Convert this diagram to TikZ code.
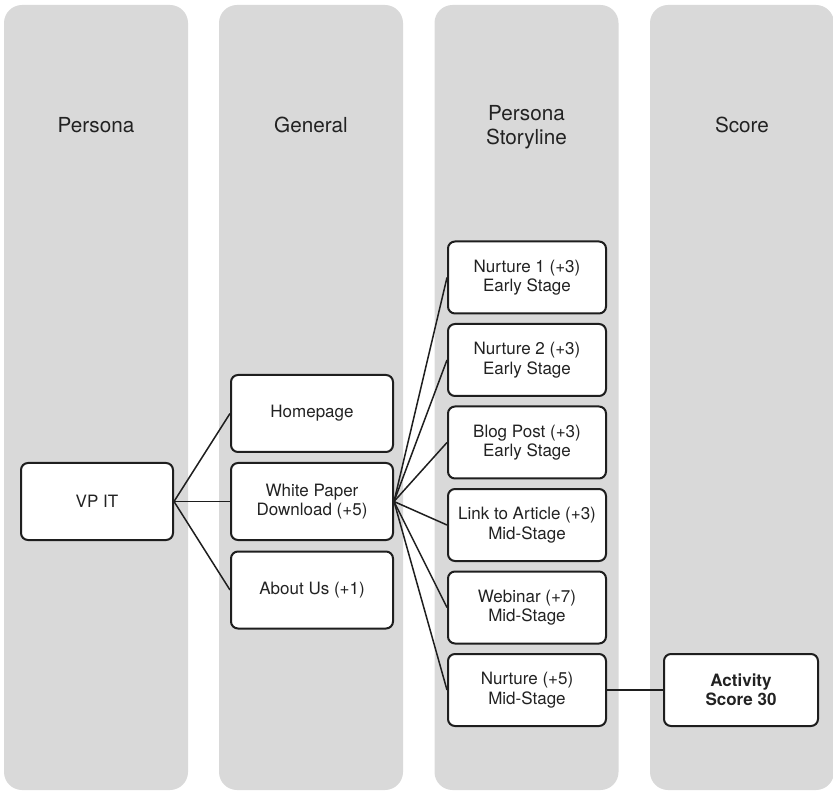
\documentclass[tikz,border=0pt]{standalone}
\usepackage{fontspec}
\setmainfont{TeX Gyre Heros}
\usepackage{tikz}
\usetikzlibrary{positioning}
\definecolor{lanegrey}{RGB}{217, 217, 217}
\definecolor{inkline}{RGB}{30, 30, 30}
\definecolor{inktext}{RGB}{34, 34, 34}
\tikzstyle{lane} = [rectangle, rounded corners=18pt, minimum width=184pt, minimum height=785pt, fill=lanegrey, draw=none]
\tikzstyle{header} = [text=inktext, align=center, font=\fontsize{20.7}{24}\selectfont]
\tikzstyle{touch} = [rectangle, rounded corners=7pt, minimum height=72pt, draw=inkline, line width=2pt, fill=white, text=inktext, align=center, font=\fontsize{17}{19.5}\selectfont]
\tikzstyle{link} = [draw=inkline, line width=1.5pt]

\begin{document}
\begin{tikzpicture}[x=1pt, y=-1pt]
    \useasboundingbox (0,0) rectangle (833,791);

    % Lanes
    \node[lane] (lane1) at (96, 397.5) {};
    \node[lane] (lane2) at (311, 397.5) {};
    \node[lane] (lane3) at (526.5, 397.5) {};
    \node[lane] (lane4) at (742, 397.5) {};
    \node[header] (head1) at (96, 125) {Persona};
    \node[header] (head2) at (311, 125) {General};
    \node[header] (head3) at (526.5, 127) {Persona\\Storyline};
    \node[header] (head4) at (742, 125) {Score};

    % Persona
    \node[touch, minimum width=152pt, minimum height=77pt] (vpit) at (97, 501.5) {VP IT};

    % General pages
    \node[touch, minimum width=162pt, minimum height=77pt] (home) at (312, 413.5) {Homepage};
    \node[touch, minimum width=162pt, minimum height=77pt] (paper) at (312, 501.5) {White Paper\\Download (+5)};
    \node[touch, minimum width=162pt, minimum height=77pt] (about) at (312, 590) {About Us (+1)};

    % Storyline steps
    \node[touch, minimum width=158pt] (nurt1) at (527, 277.5) {Nurture 1 (+3)\\Early Stage};
    \node[touch, minimum width=158pt] (nurt2) at (527, 360) {Nurture 2 (+3)\\Early Stage};
    \node[touch, minimum width=158pt] (blog) at (527, 442.5) {Blog Post (+3)\\Early Stage};
    \node[touch, minimum width=158pt] (article) at (527, 525) {Link to Article (+3)\\Mid-Stage};
    \node[touch, minimum width=158pt] (webinar) at (527, 607.5) {Webinar (+7)\\Mid-Stage};
    \node[touch, minimum width=158pt] (nurt5) at (527, 690) {Nurture (+5)\\Mid-Stage};

    % Score
    \node[touch, minimum width=154pt, font=\fontsize{17}{19.5}\selectfont\bfseries] (score) at (741, 690) {Activity\\Score 30};

    % Connections
    \draw[link] (vpit.east) -- (home.west);
    \draw[link] (vpit.east) -- (paper.west);
    \draw[link] (vpit.east) -- (about.west);
    \draw[link] (paper.east) -- (nurt1.west);
    \draw[link] (paper.east) -- (nurt2.west);
    \draw[link] (paper.east) -- (blog.west);
    \draw[link] (paper.east) -- (article.west);
    \draw[link] (paper.east) -- (webinar.west);
    \draw[link] (paper.east) -- (nurt5.west);
    \draw[link] (nurt5.east) -- (score.west);
\end{tikzpicture}
\end{document}
